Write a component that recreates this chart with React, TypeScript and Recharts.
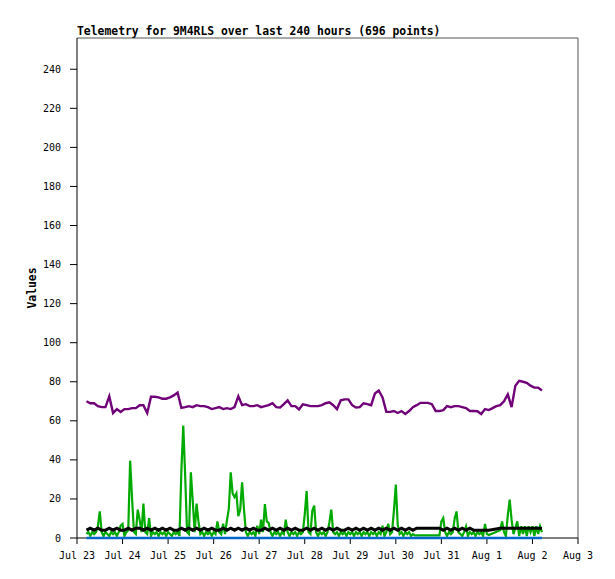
import { LineChart, Line, XAxis, YAxis, ReferenceLine } from "recharts"

// hours counted from Jul 23 00:00
const dayLabels = ["Jul 23", "Jul 24", "Jul 25", "Jul 26", "Jul 27", "Jul 28", "Jul 29", "Jul 30", "Jul 31", "Aug 1", "Aug 2", "Aug 3"]
const dayTicks = [0, 24, 48, 72, 96, 120, 144, 168, 192, 216, 240, 264]
const valueTicks = [0, 20, 40, 60, 80, 100, 120, 140, 160, 180, 200, 220, 240]

// two-hour samples, starting at hour 5
const slowStart = 5
const slowStep = 2

const purpleValues = [
  70, 69, 69, 67.5, 67, 67, 72.5, 64, 66, 64.5,
  66, 66, 66.5, 66.5, 68, 68, 64, 72.3, 72.3, 72,
  71.3, 71.3, 72, 73, 74.5, 66.6, 67, 67.5, 67, 68,
  67.5, 67.5, 67, 66, 66.5, 67, 66, 66.5, 66, 67,
  72.5, 68, 68.5, 67.5, 67.5, 68, 67, 67.5, 68, 69,
  67, 66.8, 68.5, 70.5, 67.5, 67.5, 65.8, 68.4, 68, 67.5,
  67.5, 67.5, 68, 69, 69.5, 68, 66, 70.5, 71, 71,
  68, 66.8, 67, 69, 68.5, 68, 74, 75.5, 72, 64.6,
  64.6, 65, 64, 65, 63.5, 65, 67, 68, 69.2, 69.2,
  69.2, 68.5, 65, 65, 65.5, 67.5, 67, 67.5, 67.5, 67,
  66.5, 65, 65, 64.9, 63.5, 66, 65.5, 66.5, 67.5, 68,
  70, 73.5, 67, 78, 80.5, 80, 79.5, 78, 77, 77,
  75.5,
]

const blackValues = [
  4, 5, 4, 5, 4, 4, 5, 4, 5, 4,
  4, 5, 4, 5, 5, 4, 5, 4, 5, 4,
  5, 4, 5, 4, 4, 5, 4, 5, 4, 5,
  4, 5, 4, 5, 4, 4, 5, 4, 5, 4,
  5, 4, 5, 4, 5, 4, 4, 5, 4, 5,
  4, 5, 4, 5, 4, 5, 4, 4, 5, 4,
  5, 4, 5, 4, 5, 4, 5, 4, 4, 5,
  4, 5, 4, 5, 4, 5, 4, 5, 4, 5,
  4, 5, 4, 5, 4, 5, 4, 5, null, null,
  null, null, null, 5, 4, 5, 4, 5, 4, 5,
  4, 5, 4, 4, 4, 4, 4, null, null, 5,
  5, 5, 5, 5, 5, 5, 5, 5, 5, 5,
  5,
]

const blueValues = [
  0, 0, 0, 0, 0, 0, 0, 0, 0, 0,
  0, 0, 0, 0, 0, 0, 0, 0, 0, 0,
  0, 0, 0, 0, 0, 0, 0, 0, 0, 0,
  0, 0, 0, 0, 0, 0, 0, 0, 0, 0,
  0, 0, 0, 0, 0, 0, 0, 0, 0, 0,
  0, 0, 0, 0, 0, 0, 0, 0, 0, 0,
  0, 0, 0, 0, 0, 0, 0, 0, 0, 0,
  0, 0, 0, 0, 0, 0, 0, 0, 0, 0,
  0, 0, 0, 0, 0, 0, 0, 0, 0, 0,
  0, 0, 0, 0, 0, 0, 0, 0, 0, 0,
  0, 0, 0, 0, 0, 0, 0, 0, 0, 0,
  0, 0, 0, 0, 0, 0, 0, 0, 0, 0,
  0,
]

// hourly samples, starting at hour 5
const fastStart = 5
const greenValues = [
  2, 3, 1, 3, 2, 3, 6, 13.6, 3, 1,
  3, 2, 1, 3, 2, 3, 1, 3, 6.3, 7.2,
  1, 3, 4, 39.6, 20.5, 3, 2, 14.5, 9.4, 3,
  17.6, 3, 2, 10.2, 1, 3, 2, 3, 1, 3,
  2, 3, 1, 3, 2, 1, 3, 2, 3, 1,
  34.5, 57.6, 32, 3, 2, 33.6, 18.8, 3, 17.6, 8.5,
  2, 3, 1, 3, 2, 3, 1, 3, 2, 8.5,
  3, 2, 7.3, 2, 8.9, 15, 33.6, 22.8, 20.9, 22.8,
  11.2, 14.5, 28.5, 14.5, 3, 1, 3, 2, 3, 1,
  6.3, 2, 9.4, 3, 17.4, 8.5, 7.7, 3, 1, 3,
  2, 3, 1, 3, 2, 9.4, 3, 1, 3, 2,
  3, 1, 3, 2, 3, 12, 24, 3, 2, 14,
  16.6, 3, 1, 3, 2, 3, 1, 3, 8, 14.5,
  3, 2, 3, 1, 3, 2, 3, 1, 3, 2,
  3, 1, 3, 2, 3, 1, 3, 2, 3, 1,
  3, 2, 3, 1, 3, 2, 6.3, 1, 3, 7.3,
  2, 3, 14, 27.4, 6.8, 2, 3, 1, 3, 2,
  3, 1, 2, 1.3, null, null, null, null, null, null,
  null, null, null, null, null, null, 1.3, 8.5, 10.2, 3,
  1, 3, 2, 3, 9.9, 13.6, 3, 2, 1, 3,
  5.9, 1, 3, 2, 3, 1, 3, 2, 3, 1,
  7.2, 2, 1.5, null, null, null, null, null, 4, 8.5,
  3, 1, 11.6, 19.6, 9.4, 2, 5, 8.5, 1, 6,
  2, 6, 1, 6, 3, 6, 1, 6, 2, 6,
  3,
]

const slowRows = (values: (number | null)[]) =>
  values.map((v, i) => ({ h: slowStart + i * slowStep, v }))

const purpleData = slowRows(purpleValues)
const blackData = slowRows(blackValues)
const blueData = slowRows(blueValues)
const greenData = greenValues.map((v, i) => ({ h: fastStart + i, v }))

const tickFont = { fontFamily: "DejaVu Sans Mono", fontSize: 10, fill: "#000" }

export default function App() {
  return (
    <div style={{ position: "absolute", left: 0, top: 0, width: 615, height: 579, background: "#fff" }}>
      <LineChart width={615} height={579} margin={{ top: 38, right: 37, bottom: 11, left: 17 }}>
        <XAxis
          type="number"
          dataKey="h"
          domain={[0, 264]}
          ticks={dayTicks}
          tickFormatter={(t: number) => dayLabels[dayTicks.indexOf(t)] ?? ""}
          interval={0}
          height={30}
          tickSize={6}
          tickMargin={8}
          stroke="#000"
          tick={tickFont}
        />
        <YAxis
          type="number"
          domain={[0, 256]}
          ticks={valueTicks}
          interval={0}
          width={60}
          tickSize={7}
          tickMargin={9}
          stroke="#000"
          tick={tickFont}
        />
        <ReferenceLine y={256} stroke="#555" />
        <ReferenceLine x={264} stroke="#555" />
        <Line data={greenData} dataKey="v" type="linear" stroke="#00aa00" strokeWidth={2.2} dot={false} connectNulls isAnimationActive={false} zIndex={600} />
        <Line data={blackData} dataKey="v" type="linear" stroke="#000" strokeWidth={3} dot={false} connectNulls isAnimationActive={false} zIndex={601} />
        <Line data={blueData} dataKey="v" type="linear" stroke="#0066cc" strokeWidth={2.5} dot={false} connectNulls isAnimationActive={false} zIndex={602} />
        <Line data={purpleData} dataKey="v" type="linear" stroke="#700078" strokeWidth={2.4} dot={false} connectNulls isAnimationActive={false} zIndex={603} />
      </LineChart>
      <svg width={615} height={579} style={{ position: "absolute", left: 0, top: 0, pointerEvents: "none" }}>
        <text x={77} y={35} fontFamily="DejaVu Sans Mono" fontWeight="bold" fontSize={11.4}>
          Telemetry for 9M4RLS over last 240 hours (696 points)
        </text>
        <text x={36} y={288} transform="rotate(-90 36 288)" textAnchor="middle" fontFamily="DejaVu Sans Mono" fontWeight="bold" fontSize={11.4}>
          Values
        </text>
      </svg>
    </div>
  )
}
